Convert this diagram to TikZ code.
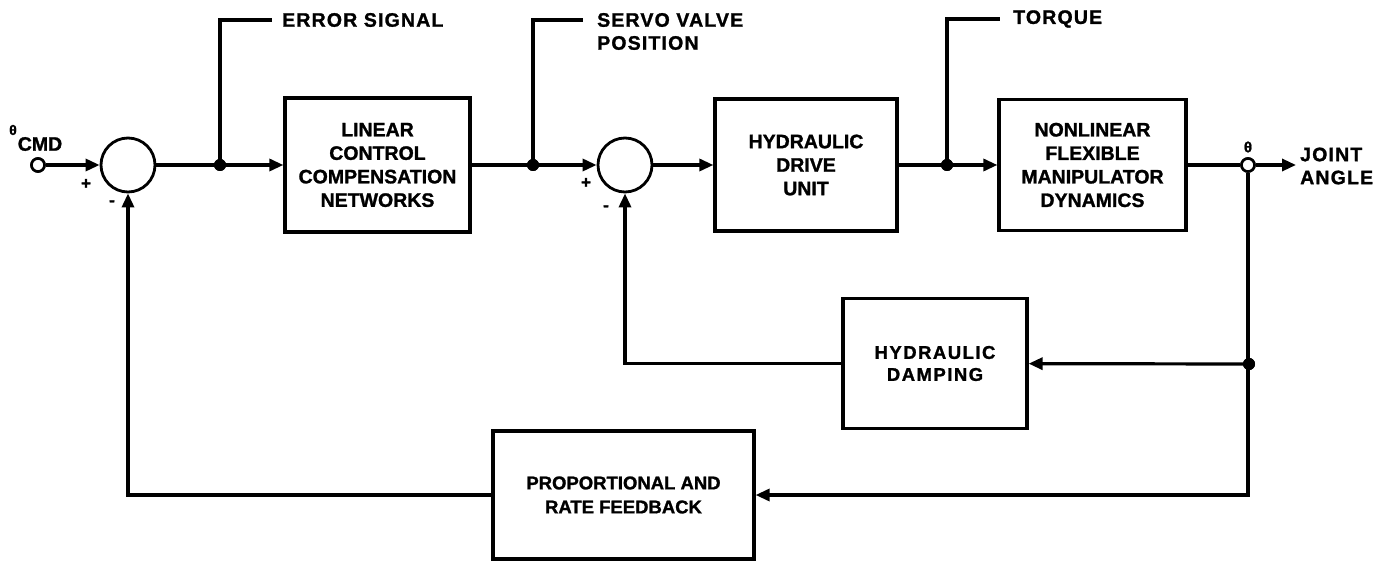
\documentclass[tikz,border=0pt]{standalone}
\usepackage{fontspec}
\setmainfont{Liberation Sans}[BoldFeatures={FakeBold=1.3}]
\usetikzlibrary{arrows.meta}
\begin{document}
\begin{tikzpicture}[x=1pt,y=-1pt,
  ln/.style={line width=3.2pt},
  arr/.style={ln,-{Triangle[length=14pt,width=12pt]}},
  blk/.style={draw,line width=3.2pt,align=center,inner sep=0pt,
    font=\bfseries\fontsize{19.5}{23.5}\selectfont},
  sumc/.style={draw,circle,line width=2.8pt,minimum size=54pt,inner sep=0pt},
  opnc/.style={draw,circle,line width=2.6pt,fill=white,minimum size=13pt,inner sep=0pt},
  dotc/.style={circle,fill=black,minimum size=12pt,inner sep=0pt},
  lbl/.style={font=\bfseries\fontsize{19.5}{23}\selectfont,inner sep=0pt,align=left},
  sgn/.style={font=\bfseries\fontsize{17}{17}\selectfont,inner sep=0pt}]
\useasboundingbox (0,0) rectangle (1384,561);

% blocks
\node[blk,minimum width=185pt,minimum height=134pt] (lin) at (377.5,165) {LINEAR\\CONTROL\\COMPENSATION\\NETWORKS};
\node[blk,minimum width=182pt,minimum height=132pt] (drv) at (806,165) {HYDRAULIC\\DRIVE\\UNIT};
\node[blk,minimum width=187pt,minimum height=131pt] (nl) at (1092.5,165) {NONLINEAR\\FLEXIBLE\\MANIPULATOR\\DYNAMICS};
\node[blk,minimum width=184pt,minimum height=130pt,font=\bfseries\fontsize{18.5}{22}\selectfont] (damp) at (935,363.5) {\addfontfeatures{LetterSpace=8}HYDRAULIC\\\addfontfeatures{LetterSpace=8}DAMPING};
\node[blk,minimum width=261pt,minimum height=128pt,font=\bfseries\fontsize{18.5}{24}\selectfont] (prop) at (623.5,495) {PROPORTIONAL AND\\RATE FEEDBACK};

% summing junctions and terminals
\node[sumc] (s1) at (128,165) {};
\node[sumc] (s2) at (625,165) {};
\node[opnc] (in) at (38,165) {};
\node[opnc] (out) at (1248,165) {};
\coordinate (jend) at (1296,165);

% branch points
\node[dotc] (d1) at (220,165) {};
\node[dotc] (d2) at (533,165) {};
\node[dotc] (d3) at (947,165) {};
\node[dotc] (d4) at (1249,364) {};

% signal tap ends
\coordinate (e1) at (272,20);
\coordinate (e2) at (583,20);
\coordinate (e3) at (1000,19);

% forward path
\draw[arr] (in) -- (s1);
\draw[arr] (s1) -- (lin);
\draw[arr] (lin) -- (s2);
\draw[arr] (s2) -- (drv);
\draw[arr] (drv) -- (nl);
\draw[ln] (nl) -- (out);
\draw[arr] (out) -- (jend);

% taps
\draw[ln] (d1.center) |- (e1);
\draw[ln] (d2.center) |- (e2);
\draw[ln] (d3.center) |- (e3);

% feedback
\draw[arr] (out) |- (prop);
\draw[arr] (d4.center) -- (damp);
\draw[arr] (damp) -| (s2);
\draw[arr] (prop) -| (s1);

% redraw dots on top
\node[dotc] at (d1) {};
\node[dotc] at (d2) {};
\node[dotc] at (d3) {};
\node[dotc] at (d4) {};
\node[opnc] at (out) {};
\node[opnc] at (in) {};

% labels
\node[lbl,anchor=west] (tE) at (282,20) {\addfontfeatures{LetterSpace=6}ERROR SIGNAL};
\node[lbl,anchor=west] (tS) at (597,31.5) {\addfontfeatures{LetterSpace=6}SERVO VALVE\\\addfontfeatures{LetterSpace=6}POSITION};
\node[lbl,anchor=west] (tT) at (1013,19) {\addfontfeatures{LetterSpace=6}TORQUE};
\node[lbl,anchor=west] (tJ) at (1300,166) {\addfontfeatures{LetterSpace=6}JOINT\\\addfontfeatures{LetterSpace=6}ANGLE};
\node[font=\bfseries\fontsize{15}{15}\selectfont,inner sep=0pt] (th) at (1248,147) {θ};
\node[font=\bfseries\fontsize{14}{14}\selectfont,inner sep=0pt] (thc) at (13,130) {θ};
\node[lbl] (cmd) at (40,144) {CMD};

% signs
\node[sgn] at (86,184) {+};
\node[sgn] at (112,203) {-};
\node[sgn] at (586,183) {+};
\node[sgn] at (606,208) {-};
\end{tikzpicture}
\end{document}
